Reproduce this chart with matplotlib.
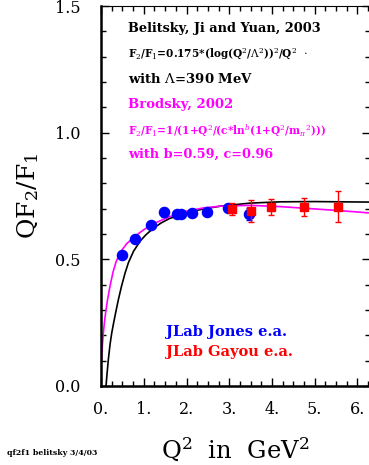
import matplotlib
matplotlib.use("Agg")
import matplotlib.pyplot as plt
from matplotlib.ticker import MultipleLocator, FormatStrFormatter

plt.rcParams["font.family"] = ["DejaVu Serif"]
plt.rcParams["mathtext.fontset"] = "dejavuserif"

# JLab Jones e.a. (blue circles)
jones_q2 = [0.49, 0.79, 1.18, 1.48, 1.77, 1.88, 2.13, 2.47, 2.97, 3.47]
jones_val = [0.517, 0.579, 0.636, 0.686, 0.678, 0.678, 0.682, 0.686, 0.704, 0.679]
jones_err = [0.010, 0.010, 0.010, 0.017, 0.010, 0.010, 0.010, 0.010, 0.012, 0.025]

# JLab Gayou e.a. (red squares)
gayou_q2 = [3.06, 3.50, 3.97, 4.75, 5.54]
gayou_val = [0.699, 0.692, 0.708, 0.707, 0.708]
gayou_err = [0.023, 0.043, 0.032, 0.036, 0.062]

# Brodsky 2002 curve (magenta)
brodsky_q2 = [0.01, 0.03, 0.05, 0.08, 0.11, 0.15, 0.21, 0.28, 0.35, 0.45, 0.6,
              0.8, 1.0, 1.22, 1.6, 2.0, 2.4, 2.8, 3.5, 4.2, 5.0, 5.6, 6.3]
brodsky_val = [0.10, 0.16, 0.205, 0.255, 0.295, 0.34, 0.395, 0.45, 0.49, 0.528,
               0.562, 0.592, 0.617, 0.640, 0.668, 0.690, 0.703, 0.710, 0.713,
               0.708, 0.699, 0.692, 0.683]

# Belitsky, Ji and Yuan 2003 curve (black)
belitsky_q2 = [0.115, 0.14, 0.17, 0.21, 0.25, 0.30, 0.35, 0.41, 0.48, 0.56, 0.64,
               0.76, 0.92, 1.05, 1.22, 1.4, 1.6, 2.0, 2.4, 2.8, 3.5, 4.2, 5.0,
               5.6, 6.3]
belitsky_val = [0.0, 0.05, 0.105, 0.165, 0.21, 0.255, 0.297, 0.345, 0.395, 0.445,
                0.487, 0.532, 0.573, 0.597, 0.622, 0.643, 0.661, 0.684, 0.699,
                0.710, 0.722, 0.727, 0.728, 0.727, 0.726]

fig = plt.figure(figsize=(3.69, 4.65), dpi=100)
ax = fig.add_axes([0.274, 0.170, 0.729, 0.817])

ax.plot(belitsky_q2, belitsky_val, color="black", lw=1.2)
ax.plot(brodsky_q2, brodsky_val, color="#ff00ff", lw=1.2)
ax.errorbar(jones_q2, jones_val, yerr=jones_err, fmt="o", color="#0000ff",
            ms=7.3, capsize=2.5, elinewidth=1, zorder=3)
ax.errorbar(gayou_q2, gayou_val, yerr=gayou_err, fmt="s", color="#ff0000",
            ms=6, capsize=2.5, elinewidth=1, zorder=4)

ax.set_xlim(0, 6.3)
ax.set_ylim(0, 1.5)
ax.xaxis.set_major_locator(MultipleLocator(1))
ax.xaxis.set_minor_locator(MultipleLocator(0.25))
ax.yaxis.set_major_locator(MultipleLocator(0.5))
ax.yaxis.set_minor_locator(MultipleLocator(0.1))
ax.xaxis.set_major_formatter(FormatStrFormatter("%d."))
ax.yaxis.set_major_formatter(FormatStrFormatter("%.1f"))
ax.tick_params(which="both", direction="in", top=True, right=True,
               labelsize=11.5, width=1)
ax.tick_params(which="major", length=6)
ax.tick_params(which="minor", length=3.5)
ax.tick_params(axis="x", which="major", pad=11)
ax.tick_params(axis="y", which="major", pad=15)
ax.spines["left"].set_linewidth(1.8)
ax.spines["bottom"].set_linewidth(1.8)
ax.spines["top"].set_linewidth(0.8)

ax.set_ylabel(r"QF$_2$/F$_1$", fontsize=18, labelpad=10)
ax.set_xlabel(r"Q$^2$  in  GeV$^2$", fontsize=17.5, labelpad=13)

tb = dict(fontweight="bold", va="center", ha="left")
ax.text(0.63, 1.413, "Belitsky, Ji and Yuan, 2003", fontsize=9.3, **tb)
ax.text(0.63, 1.307, r"F$_2$/F$_1$=0.175*(log(Q$^2$/$\Lambda^2$))$^2$/Q$^2$  $\cdot$",
        fontsize=7.6, **tb)
ax.text(0.63, 1.212, r"with $\Lambda$=390 MeV", fontsize=9.5, **tb)
ax.text(0.63, 1.113, "Brodsky, 2002", fontsize=9.5, color="#ff00ff", **tb)
ax.text(0.63, 1.011, r"F$_2$/F$_1$=1/(1+Q$^2$/(c*ln$^b$(1+Q$^2$/m$_\pi$$^2$)))",
        fontsize=7.6, color="#ff00ff", **tb)
ax.text(0.63, 0.916, "with b=0.59, c=0.96", fontsize=9.3, color="#ff00ff", **tb)
ax.text(1.52, 0.213, "JLab Jones e.a.", fontsize=10.5, color="#0000ff", **tb)
ax.text(1.52, 0.134, "JLab Gayou e.a.", fontsize=10.5, color="#ff0000", **tb)

fig.text(0.02, 0.022, "qf2f1 belitsky 3/4/03", fontsize=5.6, fontweight="bold")

fig.savefig("out.png", dpi=100)
